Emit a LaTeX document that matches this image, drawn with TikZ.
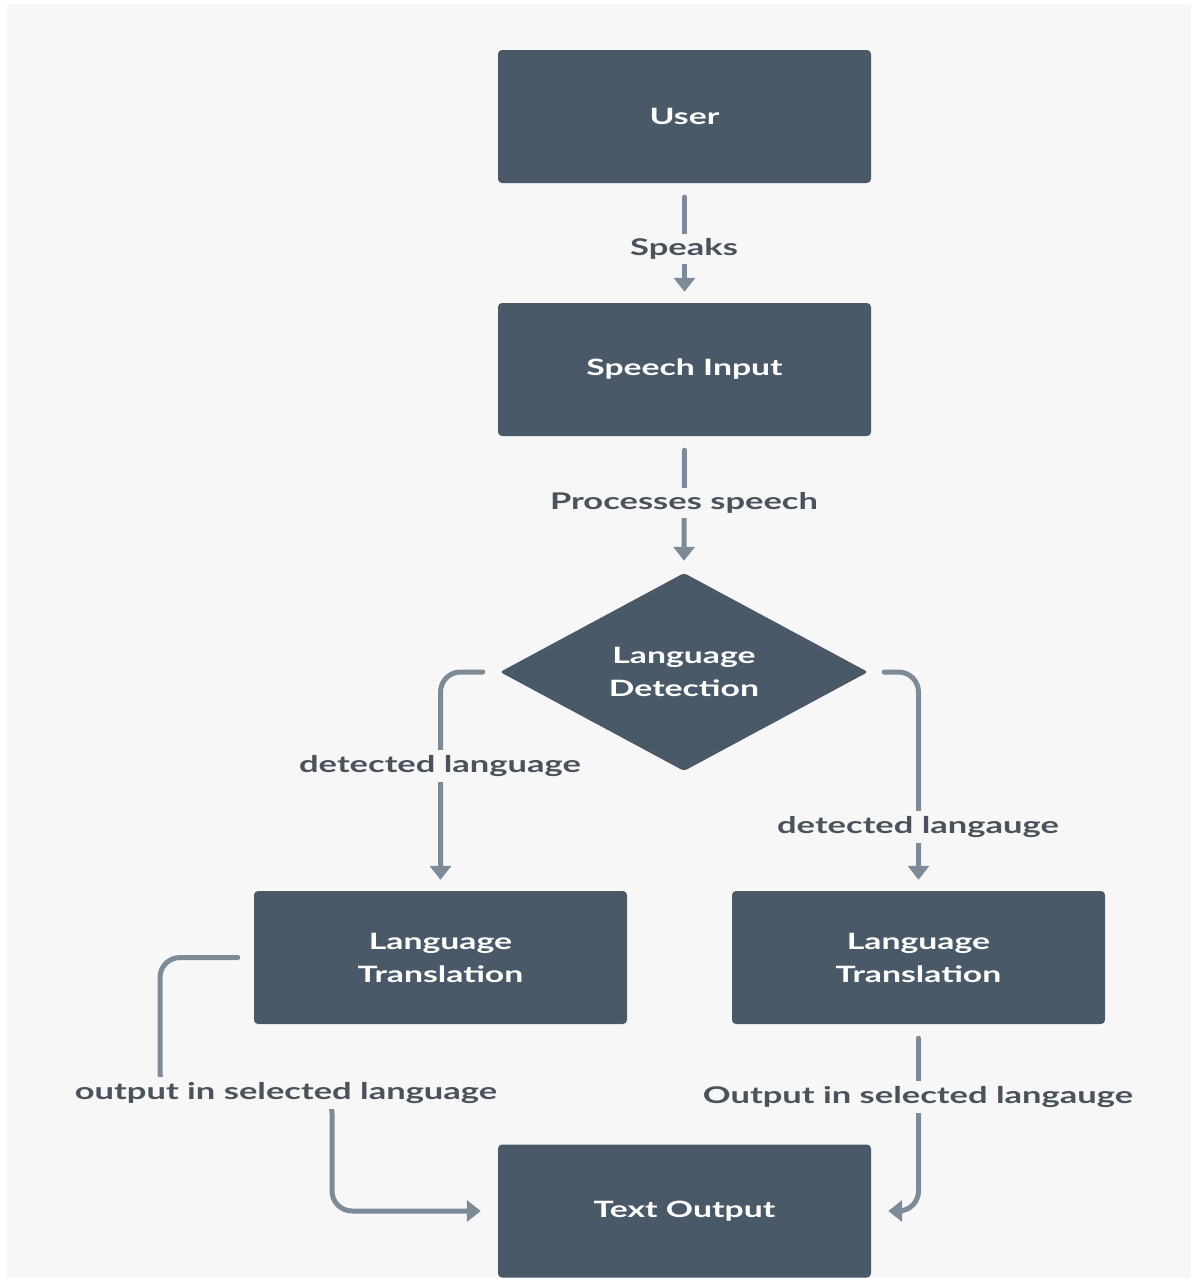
\documentclass[tikz,border=0pt]{standalone}
\usepackage{fontspec}
\setmainfont{Lato}[FakeStretch=1.5]
\usetikzlibrary{arrows.meta,shapes.geometric}
\definecolor{bg}{RGB}{247,247,247}
\definecolor{boxc}{RGB}{74,89,104}
\definecolor{linec}{RGB}{125,139,153}
\definecolor{txtc}{RGB}{74,82,92}
\begin{document}
\begin{tikzpicture}[x=1pt,y=-1pt,
  box/.style={fill=boxc,rounded corners=4pt,minimum width=373pt,minimum height=133pt,inner sep=0pt,text=white,font=\fontsize{22.5}{33}\selectfont\bfseries,align=center},
  dia/.style={diamond,fill=boxc,rounded corners=3pt,minimum width=368pt,minimum height=198pt,aspect=1.86,inner sep=0pt,text=white,font=\fontsize{22.5}{33}\selectfont\bfseries,align=center},
  conn/.style={draw=linec,line width=5pt,line cap=round,rounded corners=20pt,-{Triangle[width=21pt,length=14pt]}},
  lbl/.style={fill=bg,text=txtc,font=\fontsize{23}{26}\selectfont\bfseries,inner sep=5pt}]
\useasboundingbox (0,0) rectangle (1191,1278);
\fill[white] (0,0) rectangle (1191,1278);
\fill[bg] (7,4) rectangle (1191,1278);

\node[box] (user) at (684.5,116.5) {User};
\node[box] (speech) at (684.5,369.5) {Speech Input};
\node[dia] (det) at (684,672) {Language\\Detection};
\node[box] (ltl) at (440.5,957.5) {Language\\Translation};
\node[box] (ltr) at (918.5,957.5) {Language\\Translation};
\node[box] (out) at (684.5,1211) {Text Output};

\draw[conn] ([yshift=-14pt]user.south) -- ([yshift=11pt]speech.north);
\node[lbl] (l1) at (684,249) {Speaks};

\draw[conn] ([yshift=-14pt]speech.south) -- ([yshift=12pt]det.north);
\node[lbl] (l2) at (684,503) {Processes speech};

\draw[conn] ([xshift=-17pt]det.west) -| ([yshift=11pt]ltl.north);
\node[lbl] (l3) at (440,766) {detected language};

\draw[conn] ([xshift=16pt]det.east) -| ([yshift=11pt]ltr.north);
\node[lbl] (l4) at (918,827) {detected langauge};

\coordinate (c1) at (160,1093);
\coordinate (c2) at (332,1093);
\draw[conn] ([xshift=-16pt]ltl.west) -| (c1) -- (c2) |- ([xshift=-17pt]out.west);
\node[lbl] (l5) at (286,1093) {output in selected language};

\draw[conn] ([yshift=-14pt]ltr.south) |- ([xshift=17pt]out.east);
\node[lbl] (l6) at (918,1097) {Output in selected langauge};
\end{tikzpicture}
\end{document}
